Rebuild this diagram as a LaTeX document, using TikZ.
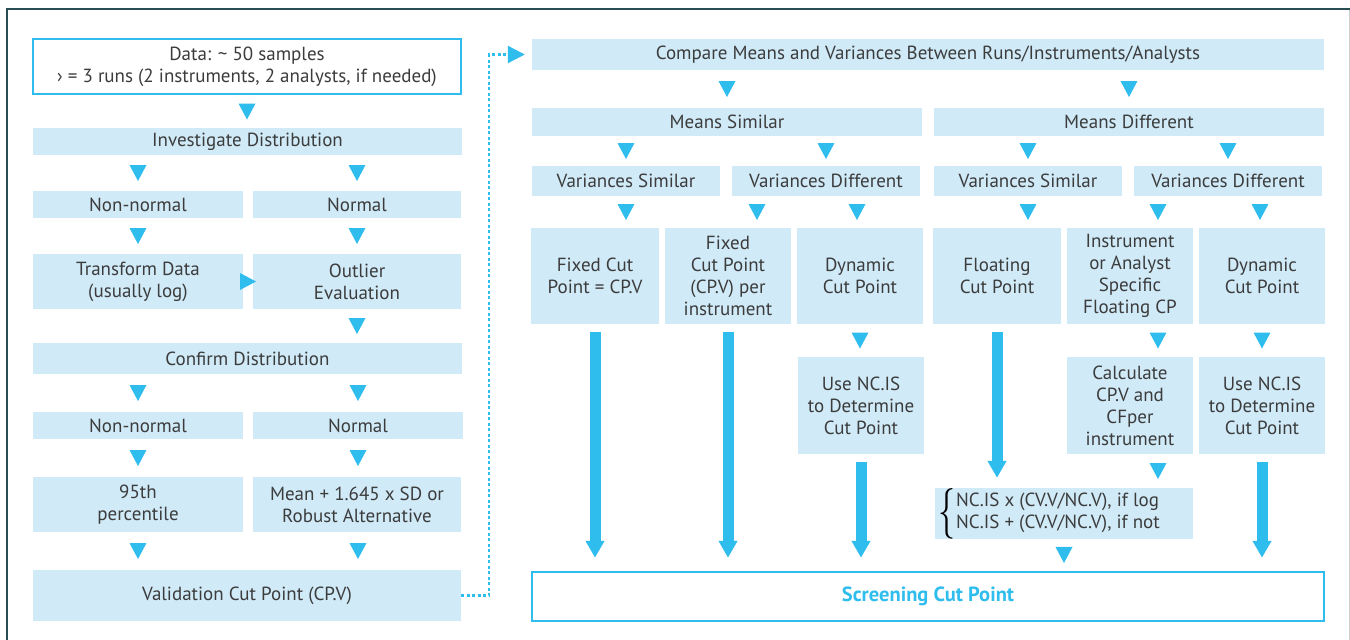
\documentclass[tikz,border=0pt]{standalone}
\usepackage{fontspec}
\setmainfont{PT Sans}
\usetikzlibrary{arrows.meta,decorations.markings,calc}
\definecolor{lb}{RGB}{208,234,248}
\definecolor{cy}{RGB}{47,189,238}
\definecolor{tx}{RGB}{60,60,60}
\definecolor{fr}{RGB}{40,78,84}
\definecolor{fg}{RGB}{205,205,205}
\begin{document}
\begin{tikzpicture}[x=1pt,y=-1pt,
  font=\fontsize{19}{22}\selectfont, text=tx,
  box/.style={fill=lb, inner sep=0pt, align=center},
  wbox/.style={fill=white, draw=cy, line width=2.5pt, inner sep=0pt, align=center},
  tri/.style={decoration={markings, mark=at position 0.5 with {\fill[cy] (8pt,0pt) -- (-8pt,8.5pt) -- (-8pt,-8.5pt) -- cycle;}}, postaction=decorate},
  big/.style={draw=cy, line width=11pt, -{Triangle[width=18pt,length=17pt]}, shorten <=8pt, shorten >=13pt},
  dashconn/.style={draw=cy, line width=2.2pt, dash pattern=on 3pt off 2.5pt, -{Triangle[width=17pt,length=17pt]}, shorten >=7pt}
]
\useasboundingbox (0,0) rectangle (1350,640);
\fill[white] (0,0) rectangle (1350,640);
% frame
\draw[fg, line width=1pt] (1349,9) -- (1349,640);
\draw[fr, line width=1.3pt] (7,640) -- (7,9) -- (1350,9);

% ---------- left column ----------
\node[wbox, minimum width=428pt, minimum height=55pt] (data) at (247,66.5) {Data: \textasciitilde{} 50 samples\\› = 3 runs (2 instruments, 2 analysts, if needed)};
\node[box, minimum width=429pt, minimum height=27pt] (inv) at (247.5,141.5) {Investigate Distribution};
\node[box, minimum width=210pt, minimum height=27pt] (nn1) at (138,204.5) {Non-normal};
\node[box, minimum width=208pt, minimum height=27pt] (n1) at (357,204.5) {Normal};
\node[box, minimum width=210pt, minimum height=55pt] (tr) at (138,281.5) {Transform Data\\(usually log)};
\node[box, minimum width=208pt, minimum height=55pt] (out) at (357,281.5) {Outlier\\Evaluation};
\node[box, minimum width=429pt, minimum height=31pt] (conf) at (247.5,358.5) {Confirm Distribution};
\node[box, minimum width=210pt, minimum height=27pt] (nn2) at (138,425.5) {Non-normal};
\node[box, minimum width=210pt, minimum height=27pt] (n2) at (358,425.5) {Normal};
\node[box, minimum width=210pt, minimum height=55pt] (p95) at (138,504.5) {95th\\percentile};
\node[box, minimum width=208pt, minimum height=55pt] (mean) at (357,504.5) {Mean + 1.645 x SD or\\Robust Alternative};
\node[box, minimum width=428pt, minimum height=51pt] (val) at (247,595.5) {Validation Cut Point (CP.V)};

\path[tri] (data.south) -- (data.south |- inv.north);
\path[tri] (inv.south -| nn1.north) -- (nn1.north);
\path[tri] (inv.south -| n1.north) -- (n1.north);
\path[tri] (nn1.south) -- (tr.north);
\path[tri] (n1.south) -- (out.north);
\path[tri] (tr.east) -- (out.west);
\path[tri] (out.south) -- (out.south |- conf.north);
\path[tri] (conf.south -| nn2.north) -- (nn2.north);
\path[tri] (conf.south -| n2.north) -- (n2.north);
\path[tri] (nn2.south) -- (p95.north);
\path[tri] (n2.south) -- (n2.south |- mean.north);
\path[tri] (p95.south) -- (p95.south |- val.north);
\path[tri] (n2.south |- mean.south) -- (n2.south |- val.north);

% ---------- right part ----------
\node[box, minimum width=792pt, minimum height=31pt] (cmp) at (928,54.5) {Compare Means and Variances Between Runs/Instruments/Analysts};
\node[box, minimum width=390pt, minimum height=28pt] (ms) at (727,122) {Means Similar};
\node[box, minimum width=390pt, minimum height=28pt] (md) at (1129,122) {Means Different};
\node[box, minimum width=188pt, minimum height=30pt] (vs1) at (626,181) {Variances Similar};
\node[box, minimum width=188pt, minimum height=30pt] (vd1) at (826,181) {Variances Different};
\node[box, minimum width=188pt, minimum height=30pt] (vs2) at (1028,181) {Variances Similar};
\node[box, minimum width=188pt, minimum height=30pt] (vd2) at (1228,181) {Variances Different};

\node[box, minimum width=128pt, minimum height=96pt] (fc) at (595,276) {Fixed Cut\\Point = CP.V};
\node[box, minimum width=126pt, minimum height=96pt] (fcp) at (728,276) {Fixed\\Cut Point\\(CP.V) per\\instrument};
\node[box, minimum width=126pt, minimum height=96pt] (dyn1) at (860,276) {Dynamic\\Cut Point};
\node[box, minimum width=128pt, minimum height=96pt] (flt) at (997,276) {Floating\\Cut Point};
\node[box, minimum width=126pt, minimum height=96pt] (ins) at (1130,276) {Instrument\\or Analyst\\Specific\\Floating CP};
\node[box, minimum width=126pt, minimum height=96pt] (dyn2) at (1262,276) {Dynamic\\Cut Point};

\node[box, minimum width=126pt, minimum height=97pt] (nc1) at (861,405.5) {Use NC.IS\\to Determine\\Cut Point};
\node[box, minimum width=126pt, minimum height=97pt] (calc) at (1130,405.5) {Calculate\\CP.V and\\CFper\\instrument};
\node[box, minimum width=126pt, minimum height=97pt] (nc2) at (1262,405.5) {Use NC.IS\\to Determine\\Cut Point};
\node[box, minimum width=258pt, minimum height=51pt] (form) at (1064,513.5) {$\vcenter{\hbox{\color{black}\resizebox{17pt}{38pt}{$\{$}}}$\hspace{1pt}$\vcenter{\hbox{\begin{tabular}{@{}l@{}}NC.IS x (CV.V/NC.V), if log\\NC.IS + (CV.V/NC.V), if not\end{tabular}}}$\hspace{30pt}};

\node[wbox, minimum width=792pt, minimum height=49pt, text=cy, font=\fontsize{20.5}{22}\selectfont\bfseries] (scr) at (928,596.5) {Screening Cut Point};

% connectors
\draw[dashconn] (val.east) -- ++(28,0) |- (cmp.west);

\path[tri] (cmp.south -| ms.north) -- (ms.north);
\path[tri] (cmp.south -| md.north) -- (md.north);
\path[tri] (ms.south -| vs1.north) -- (vs1.north);
\path[tri] (ms.south -| vd1.north) -- (vd1.north);
\path[tri] (md.south -| vs2.north) -- (vs2.north);
\path[tri] (md.south -| vd2.north) -- (vd2.north);

\coordinate (a1) at ($(vd1.south)+(-69,0)$);
\coordinate (a2) at ($(vd1.south)+(31,0)$);
\coordinate (a3) at ($(vd2.south)+(-70,0)$);
\coordinate (a4) at ($(vd2.south)+(32,0)$);
\coordinate (a5) at ($(ins.south)+(28,0)$);
\coordinate (a6) at ($(calc.south)+(28,0)$);

\path[tri] (vs1.south) -- (vs1.south |- fc.north);
\path[tri] (a1) -- (a1 |- fcp.north);
\path[tri] (a2) -- (a2 |- dyn1.north);
\path[tri] (vs2.south) -- (vs2.south |- flt.north);
\path[tri] (a3) -- (a3 |- ins.north);
\path[tri] (a4) -- (a4 |- dyn2.north);

\path[tri] (dyn1.south) -- (dyn1.south |- nc1.north);
\path[tri] (a5) -- (a5 |- calc.north);
\path[tri] (dyn2.south) -- (dyn2.south |- nc2.north);
\path[tri] (a6) -- (a6 |- form.north);
\path[tri] (form.south) -- (form.south |- scr.north);

\draw[big] (fc.south) -- (fc.south |- scr.north);
\draw[big] (fcp.south) -- (fcp.south |- scr.north);
\draw[big] (nc1.south) -- (nc1.south |- scr.north);
\draw[big] (nc2.south) -- (nc2.south |- scr.north);
\draw[big, shorten >=10pt] (flt.south) -- (flt.south |- form.north);
\end{tikzpicture}
\end{document}
